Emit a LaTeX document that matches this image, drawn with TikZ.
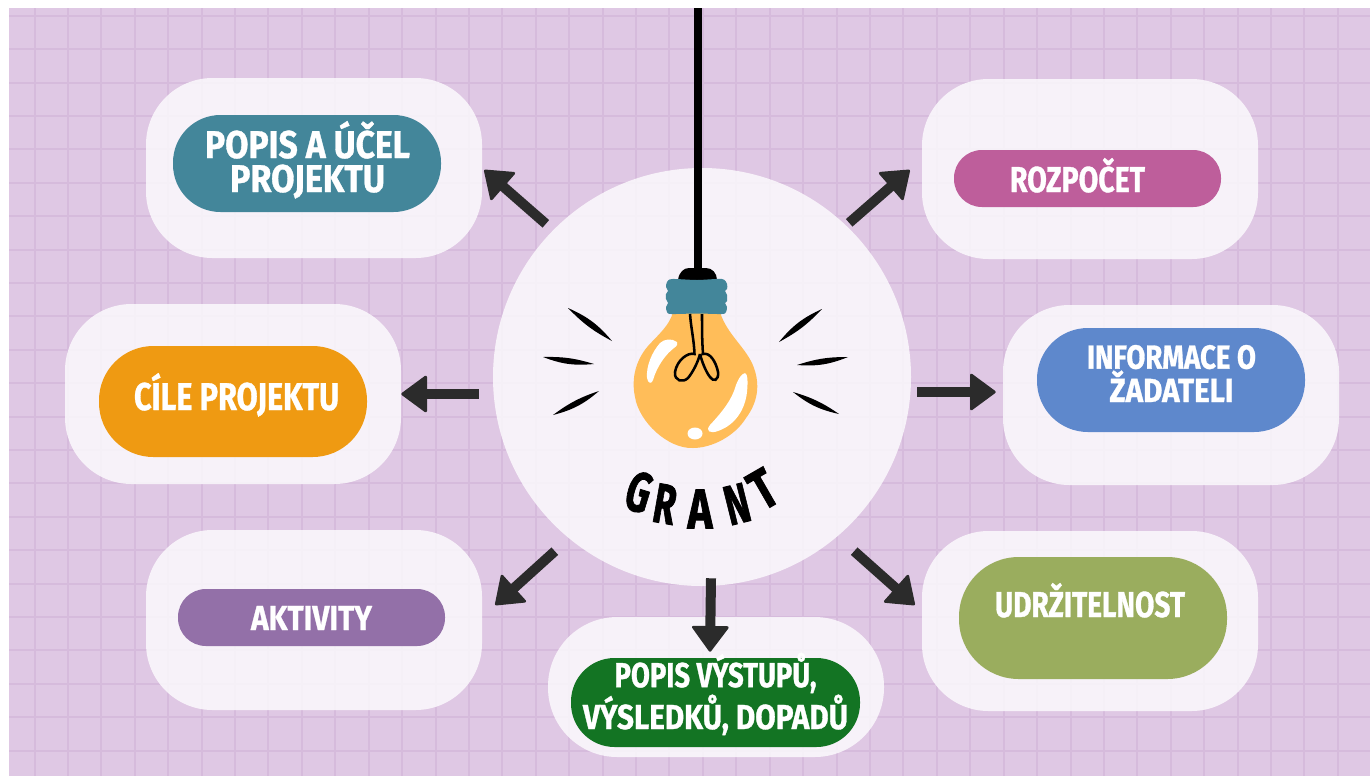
\documentclass[tikz,border=0pt]{standalone}
\usepackage{fontspec}
\usepackage{graphicx}
\setmainfont[BoldFeatures={FakeBold=1.0}]{Fira Sans}
\newfontfamily\heavyfont[UprightFont=* Bold,FakeBold=1.6]{Fira Sans}
\usetikzlibrary{arrows.meta}
\definecolor{bgp}{HTML}{DFC8E4}
\definecolor{gridp}{HTML}{D6BBDC}
\definecolor{teal}{HTML}{43869A}
\definecolor{rose}{HTML}{BE5E9B}
\definecolor{amber}{HTML}{EF9A12}
\definecolor{sky}{HTML}{5E88CC}
\definecolor{plum}{HTML}{9370A8}
\definecolor{moss}{HTML}{9AAD5E}
\definecolor{forest}{HTML}{137423}
\definecolor{bulbc}{HTML}{FFBD59}
\definecolor{ink}{HTML}{2B2B2B}
\newlength\fwlen
\newcommand\fw[2]{\settowidth\fwlen{#2}\pgfmathsetmacro\fwr{#1*.75/\fwlen}\scalebox{\fwr}[1]{#2}}
\tikzset{
  x=.75pt,y=-.75pt,
  card/.style 2 args={fill=white,fill opacity=.78,inner sep=0pt,minimum width=#1*.75pt,minimum height=#2*.75pt,rounded corners=.37*#2*.75pt},
  cardg/.style={fill=white,fill opacity=.78,inner sep=0pt,minimum width=336*.75pt,minimum height=140*.75pt,rounded corners=52pt},
  pill/.style n args={3}{fill=#1,inner sep=0pt,minimum width=#2*.75pt,minimum height=#3*.75pt,rounded corners=.49*#3*.75pt},
  lbl/.style={text=white,inner sep=0pt,align=center,anchor=base},
  conn/.style={draw=ink,line width=7.5pt,-{Triangle[width=29pt,length=20pt,round,line width=2pt]}},
  ray/.style={fill=black},
  gl/.style={text=black,inner sep=0pt,font=\fontsize{42}{44}\selectfont\heavyfont},
}
\newcommand\rayline[2]{\fill[ray] (#1) to[bend left=13] (#2) to[bend left=9] (#1);}
\begin{document}
\begin{tikzpicture}
\useasboundingbox (0,0) rectangle (1370,776);
\fill[white] (0,0) rectangle (1370,776);
\fill[bgp] (9,8) rectangle (1370,776);
\foreach \i in {0,...,39} {\draw[gridp,line width=1.5pt] ({34.5+33.42*\i},8) -- ({34.5+33.42*\i},776);}
\foreach \i in {0,...,22} {\draw[gridp,line width=1.5pt] (9,{15.8+33.4*\i}) -- (1370,{15.8+33.4*\i});}
% cards
\node[card={336}{180}] (cardA) at (314,168) {};
\node[card={336}{180}] (cardB) at (1090,169) {};
\node[card={336}{180}] (cardC) at (233,394) {};
\node[card={336}{180}] (cardD) at (1171,395) {};
\node[card={336}{180}] (cardE) at (314,620) {};
\node[card={336}{180}] (cardF) at (1090,621) {};
\node[cardg] (cardG) at (716,687) {};
\node[circle,fill=white,fill opacity=.78,inner sep=0pt,minimum size=418*.75pt] (hub) at (702,377) {};
% pills
\node[pill={teal}{268}{97}] (pillA) at (307,163.5) {};
\node[pill={rose}{267}{57}] (pillB) at (1087.5,178.5) {};
\node[pill={amber}{268}{111}] (pillC) at (233,401.5) {};
\node[pill={sky}{268}{104}] (pillD) at (1171,380) {};
\node[pill={plum}{267}{57}] (pillE) at (311.5,617.5) {};
\node[pill={moss}{268}{122}] (pillF) at (1093,618) {};
\node[pill={forest}{289}{89}] (pillG) at (715.5,702.5) {};
% labels
\node[lbl,font=\fontsize{29}{25.5}\selectfont\bfseries] (txtA) at (307.5,192) {\fw{205}{POPIS A ÚČEL}\\\fw{155}{PROJEKTU}};
\node[lbl,font=\fontsize{27}{30}\selectfont\bfseries] (txtB) at (1077.5,192) {\fw{135}{ROZPOČET}};
\node[lbl,font=\fontsize{29}{30}\selectfont\bfseries] (txtC) at (236.5,410) {\fw{205}{CÍLE PROJEKTU}};
\node[lbl,font=\fontsize{25}{21.75}\selectfont\bfseries] (txtD) at (1171.5,402) {\fw{169}{INFORMACE O}\\\fw{124}{ŽADATELI}};
\node[lbl,font=\fontsize{26}{30}\selectfont\bfseries] (txtE) at (311.5,630) {\fw{121}{AKTIVITY}};
\node[lbl,font=\fontsize{27}{30}\selectfont\bfseries] (txtF) at (1090,617) {\fw{190}{UDRŽITELNOST}};
\node[lbl,font=\fontsize{26}{24}\selectfont\bfseries] (txtG) at (715.5,729) {\fw{202}{POPIS VÝSTUPŮ,}\\\fw{265}{VÝSLEDKŮ, DOPADŮ}};
% connectors
\draw[conn] ([shift={(-8.2,-5.2)}]hub.135) -- ([shift={(2,2)}]cardA.east);
\draw[conn] ([shift={(-.8,-6.2)}]hub.45) -- ([shift={(-12,1)}]cardB.west);
\draw[conn] ([shift={(-14,17)}]hub.west) -- (cardC.east);
\draw[conn] ([shift={(6,15)}]hub.east) -- ([shift={(-7,-3)}]cardD.west);
\draw[conn] ([shift={(.8,26.2)}]hub.225) -- ([shift={(13,-15)}]cardE.east);
\draw[conn] ([shift={(4.2,26.2)}]hub.-45) -- ([shift={(-7,-16)}]cardF.west);
\draw[conn] ([shift={(9,-8)}]hub.south) -- ([shift={(-6,35)}]cardG.north);
% bulb
\draw[black,line width=6pt] (698,8) -- (698,275);
\fill[black] (678,280) .. controls (679,272) and (684,268) .. (689,268) -- (706,268) .. controls (712,268) and (717,273) .. (717,280) -- cycle;
\fill[bulbc] (673,312) .. controls (670,325) and (658,335) .. (648,346)
  .. controls (636,360) and (631,378) .. (635,397)
  .. controls (639,422) and (668,449) .. (693,448)
  .. controls (712,448) and (735,436) .. (746,418)
  .. controls (758,402) and (760,385) .. (754,368)
  .. controls (747,348) and (727,335) .. (720,312) -- cycle;
\fill[teal] plot[smooth cycle,tension=.45] coordinates {(672,279) (697,280) (722,279) (727,284) (727,289) (725,291) (727,295) (727,301) (725,303) (727,307) (726,312) (722,314) (697,313.5) (671,314) (667,312) (666,307) (668,303) (666,299) (666,294) (668,291) (666,287) (667,282)};
\fill[white] (677,342) .. controls (672,338) and (664,339) .. (660,343) .. controls (652,352) and (646,366) .. (647,378) .. controls (648,384) and (652,384) .. (653,380) .. controls (657,366) and (666,354) .. (674,348) .. controls (677,346) and (678,344) .. (677,342) -- cycle;
\fill[white] (743,374) .. controls (748,370) and (748,382) .. (747,392) .. controls (745,410) and (735,425) .. (718,431) .. controls (710,434) and (705,431) .. (710,425) .. controls (722,412) and (732,400) .. (736,385) .. controls (738,380) and (740,376) .. (743,374) -- cycle;
\fill[white] (695,433.5) ellipse [x radius=7.5,y radius=6];
\draw[black,line width=1.9pt] (690,314) .. controls (691,328) and (694,340) .. (694.5,354)
  .. controls (688,352) and (677,360) .. (675,372) .. controls (674,381) and (683,383) .. (688,378) .. controls (693,372) and (698,362) .. (700,354);
\draw[black,line width=1.9pt] (702,314) .. controls (702,328) and (702,340) .. (703,354)
  .. controls (710,352) and (716,362) .. (718,372) .. controls (719,381) and (713,382) .. (710,377) .. controls (706,372) and (702,362) .. (700,354);
\rayline{568,308}{612,341}
\rayline{594,364}{543,357}
\rayline{599,391}{553,415}
\rayline{779,342}{822,309}
\rayline{848,357}{797,365}
\rayline{839,414}{793,392}
% GRANT
\node[gl,rotate=-17] (g1) at (639,492) {\fw{24}{G}};
\node[gl,rotate=-10] (g2) at (665,504) {\fw{22}{R}};
\node[gl] (g3) at (700,509) {\fw{25}{A}};
\node[gl,rotate=14] (g4) at (737,504) {\fw{24}{N}};
\node[gl,rotate=30] (g5) at (763,489) {\fw{23}{T}};
\end{tikzpicture}
\end{document}
